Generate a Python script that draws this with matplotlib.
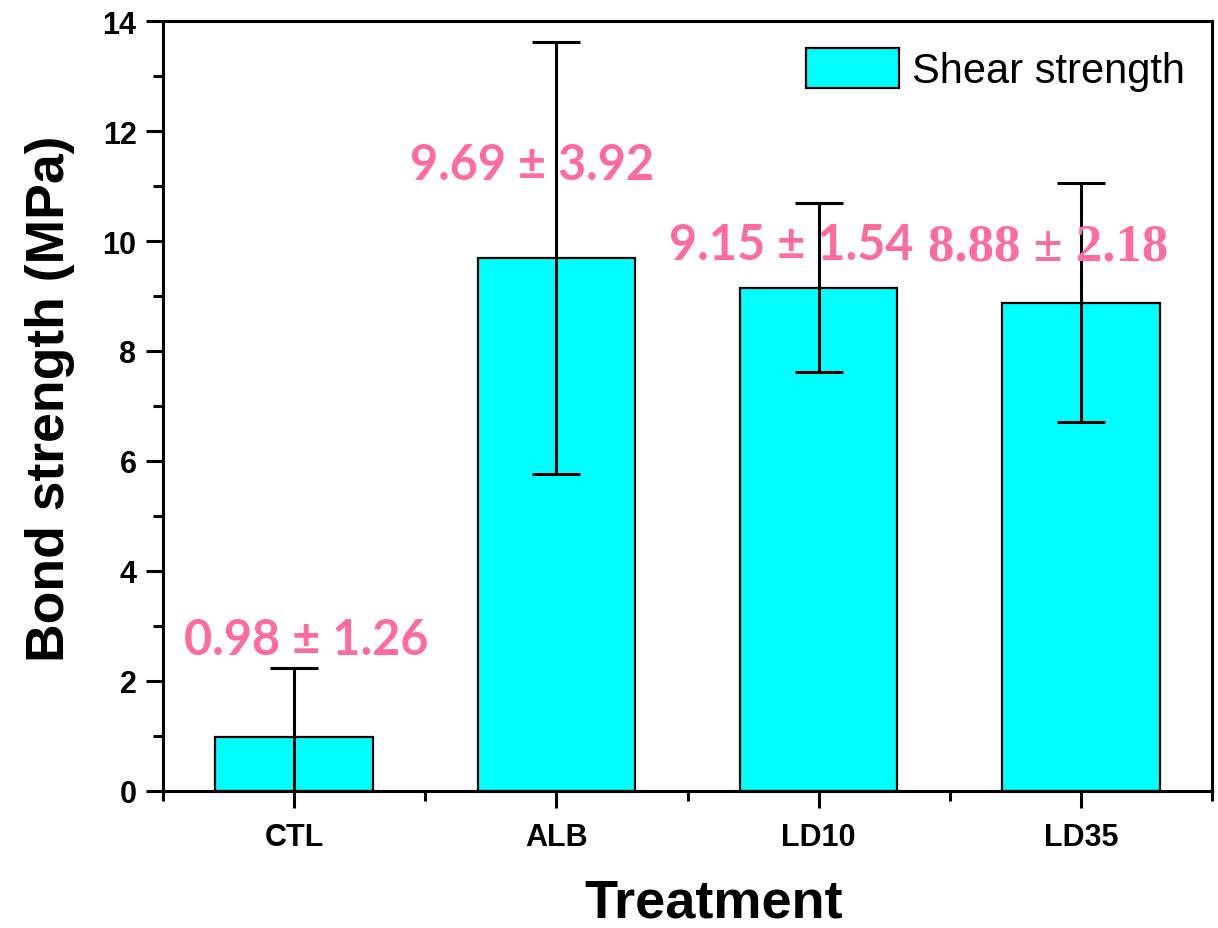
import matplotlib
matplotlib.use("Agg")
import matplotlib.pyplot as plt
from matplotlib.ticker import MultipleLocator, FixedLocator

# Data
treatments = ["CTL", "ALB", "LD10", "LD35"]
shear_strength = [0.98, 9.69, 9.15, 8.88]
shear_sd = [1.26, 3.92, 1.54, 2.18]

# Annotation placement (data coords, baseline of text)
label_x = [0.045, 0.907, 1.894, 2.876]
label_y = [2.49, 11.13, 9.67, 9.67]
label_font = ["Lato", "Lato", "Lato", "Liberation Serif"]
label_size = [35, 35, 35, 38]

BAR_COLOR = "#00FFFF"
LABEL_COLOR = "#FF6B9B"
WIDTH_BAR = 0.6

plt.rcParams["font.family"] = ["Liberation Sans", "DejaVu Sans"]

fig = plt.figure(figsize=(12.18, 9.29), dpi=100)
ax = fig.add_axes([0.1338, 0.1475, 0.8613, 0.8288])

x = list(range(len(treatments)))
ax.bar(x, shear_strength, width=WIDTH_BAR, color=BAR_COLOR,
       edgecolor="black", linewidth=1.6, zorder=2, label="Shear strength")
ax.errorbar(x, shear_strength, yerr=shear_sd, fmt="none", ecolor="black",
            elinewidth=2.2, capsize=17, capthick=2.2, zorder=3)

for i in range(len(treatments)):
    txt = "{:.2f} \u00b1 {:.2f}".format(shear_strength[i], shear_sd[i])
    ax.text(label_x[i], label_y[i], txt, ha="center", va="baseline",
            fontsize=label_size[i], fontweight="bold", color=LABEL_COLOR,
            family=label_font[i], zorder=4)

ax.set_xlim(-0.5, 3.5)
ax.set_ylim(0, 14)
ax.set_xticks(x)
ax.set_xticklabels(treatments)
ax.xaxis.set_minor_locator(FixedLocator([-0.5, 0.5, 1.5, 2.5, 3.5]))
ax.yaxis.set_major_locator(MultipleLocator(2))
ax.yaxis.set_minor_locator(MultipleLocator(1))

for side in ["left", "right", "top", "bottom"]:
    ax.spines[side].set_linewidth(2.2)

ax.tick_params(axis="x", which="major", pad=10)
ax.tick_params(axis="both", which="major", direction="out", length=12,
               width=2.2, labelsize=22)
ax.tick_params(axis="y", which="major", pad=7)
ax.tick_params(axis="both", which="minor", direction="out", length=7, width=2.2)
for lbl in ax.get_xticklabels() + ax.get_yticklabels():
    lbl.set_fontweight("bold")

ax.set_xlabel("Treatment", fontsize=39, fontweight="bold")
ax.set_ylabel("Bond strength (MPa)", fontsize=38.5, fontweight="bold")
ax.xaxis.set_label_coords(0.525, -0.112)
ax.yaxis.set_label_coords(-0.084, 0.51)

legend = ax.legend(loc="upper right", bbox_to_anchor=(1, 1), borderaxespad=0,
                   frameon=False, fontsize=30, handlelength=2.25,
                   handleheight=1.1, handletextpad=0.3, borderpad=0.65)

plt.savefig("out.png", dpi=100)
